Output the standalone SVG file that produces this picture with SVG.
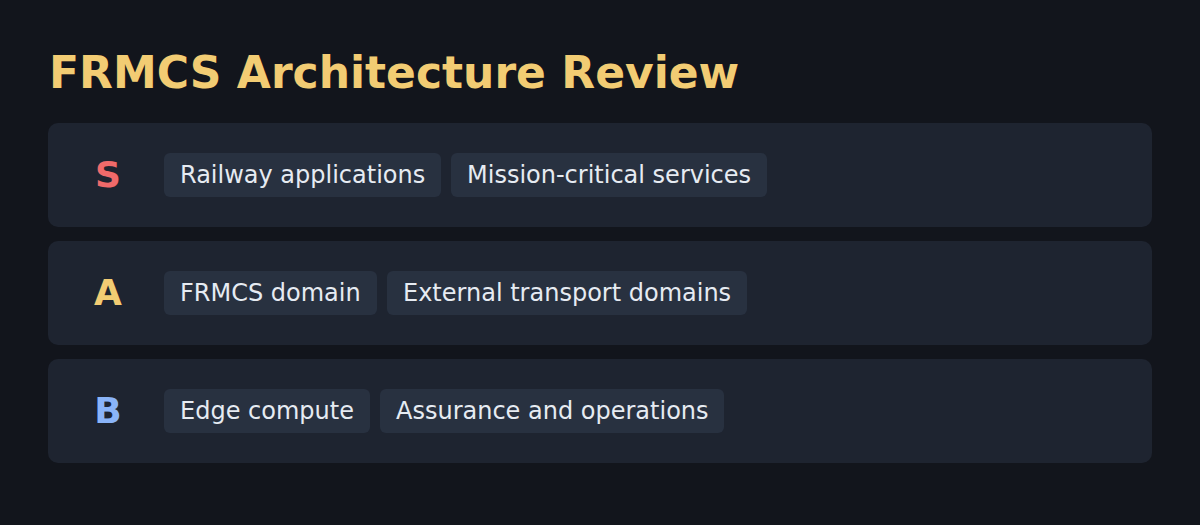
<svg xmlns="http://www.w3.org/2000/svg" width="1200" height="525" viewBox="0 0 1200 525">
<style>
.row{fill:#1e2430}
.chip{fill:#283140}
.ct{font-family:"DejaVu Sans",sans-serif;font-size:24px;fill:#e6ebf2}
.lt{font-family:"DejaVu Sans",sans-serif;font-size:36px;font-weight:bold;text-anchor:middle}
</style>
<rect width="1200" height="525" fill="#12151c"/>
<text x="49" y="88" font-family="DejaVu Sans, sans-serif" font-size="44" font-weight="bold" fill="#f2cc73">FRMCS Architecture Review</text>
<g id="row-s">
<rect class="row" x="48" y="123" width="1104" height="104" rx="10"/>
<text class="lt" x="108" y="187" fill="#f06a6a">S</text>
<rect class="chip" x="164" y="153" width="277" height="44" rx="6"/>
<text class="ct" x="180" y="183">Railway applications</text>
<rect class="chip" x="451" y="153" width="316" height="44" rx="6"/>
<text class="ct" x="467" y="183">Mission-critical services</text>
</g>
<g id="row-a">
<rect class="row" x="48" y="241" width="1104" height="104" rx="10"/>
<text class="lt" x="108" y="305" fill="#f2cc73">A</text>
<rect class="chip" x="164" y="271" width="213" height="44" rx="6"/>
<text class="ct" x="180" y="301">FRMCS domain</text>
<rect class="chip" x="387" y="271" width="360" height="44" rx="6"/>
<text class="ct" x="403" y="301">External transport domains</text>
</g>
<g id="row-b">
<rect class="row" x="48" y="359" width="1104" height="104" rx="10"/>
<text class="lt" x="108" y="423" fill="#8ab4f8">B</text>
<rect class="chip" x="164" y="389" width="206" height="44" rx="6"/>
<text class="ct" x="180" y="419">Edge compute</text>
<rect class="chip" x="380" y="389" width="344" height="44" rx="6"/>
<text class="ct" x="396" y="419">Assurance and operations</text>
</g>
<g id="connectors"/>
</svg>
